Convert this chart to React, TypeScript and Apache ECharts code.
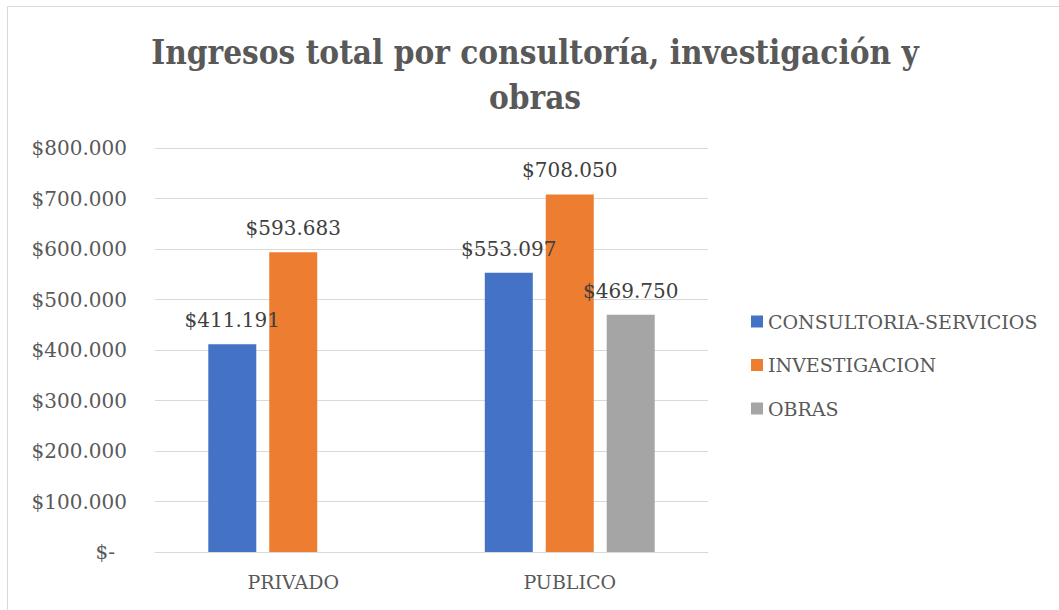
import React, { useEffect, useRef } from "react";
import * as echarts from "echarts";

const categories = ["PRIVADO", "PUBLICO"];
const seriesNames = ["CONSULTORIA-SERVICIOS", "INVESTIGACION", "OBRAS"];
const consultoria = [411191, 553097];
const investigacion = [593683, 708050];
const obras: (number | null)[] = [null, 469750];
const colors = ["#4472C4", "#ED7D31", "#A5A5A5"];

const fmt = (v: number) => {
  if (!v) return "$-";
  return "$" + String(Math.round(v)).replace(/\B(?=(\d{3})+(?!\d))/g, ".");
};

export default function App() {
  const ref = useRef<HTMLDivElement>(null);
  useEffect(() => {
    document.body.style.margin = "0";
    const chart = echarts.init(ref.current!, null, { renderer: "svg" });
    const font = "DejaVu Serif";
    const textColor = "#595959";
    const mk = (name: string, data: (number | null)[], color: string) => ({
      name,
      type: "bar",
      data,
      barWidth: 48,
      barGap: "27%",
      itemStyle: { color },
      label: {
        show: true,
        position: "top",
        distance: 14,
        color: "#404040",
        fontFamily: font,
        fontSize: 20,
        formatter: (p: any) => fmt(p.value),
      },
    });
    chart.setOption({
      animation: false,
      backgroundColor: "#ffffff",
      title: {
        text: "Ingresos total por consultoría, investigación y\nobras",
        left: 530,
        textAlign: "center",
        top: 25,
        textStyle: {
          fontFamily: "DejaVu Serif Condensed, DejaVu Serif",
          fontWeight: "bold",
          fontSize: 33,
          color: textColor,
          lineHeight: 45,
        },
      },
      graphic: [
        {
          type: "rect",
          shape: { x: 7.5, y: 6.5, width: 1060, height: 610 },
          style: { fill: "none", stroke: "#d9d9d9", lineWidth: 1 },
          silent: true,
        },
      ],
      legend: {
        orient: "vertical",
        left: 746,
        top: 307,
        itemWidth: 12,
        itemHeight: 12,
        itemGap: 24.5,
        icon: "rect",
        textStyle: { fontFamily: font, fontSize: 19, color: textColor },
        data: seriesNames,
      },
      grid: { left: 155, right: 351, top: 148, bottom: 58 },
      xAxis: {
        type: "category",
        data: categories,
        axisLine: { lineStyle: { color: "#d9d9d9", width: 1 } },
        axisTick: { show: false },
        axisLabel: {
          fontFamily: font,
          fontSize: 19,
          color: textColor,
          margin: 20,
        },
      },
      yAxis: {
        type: "value",
        min: 0,
        max: 800000,
        interval: 100000,
        splitLine: { lineStyle: { color: "#d9d9d9", width: 1 } },
        axisLabel: {
          fontFamily: font,
          fontSize: 20,
          color: textColor,
          margin: 28,
          formatter: (v: number) => (v === 0 ? "{z|$-}" : fmt(v)),
          rich: {
            z: { fontFamily: font, fontSize: 20, color: textColor, padding: [0, 12, 0, 0] },
          },
        },
      },
      series: [
        mk(seriesNames[0], consultoria, colors[0]),
        mk(seriesNames[1], investigacion, colors[1]),
        mk(seriesNames[2], obras, colors[2]),
      ],
    });
    return () => chart.dispose();
  }, []);
  return <div ref={ref} style={{ width: 1059, height: 610 }} />;
}
